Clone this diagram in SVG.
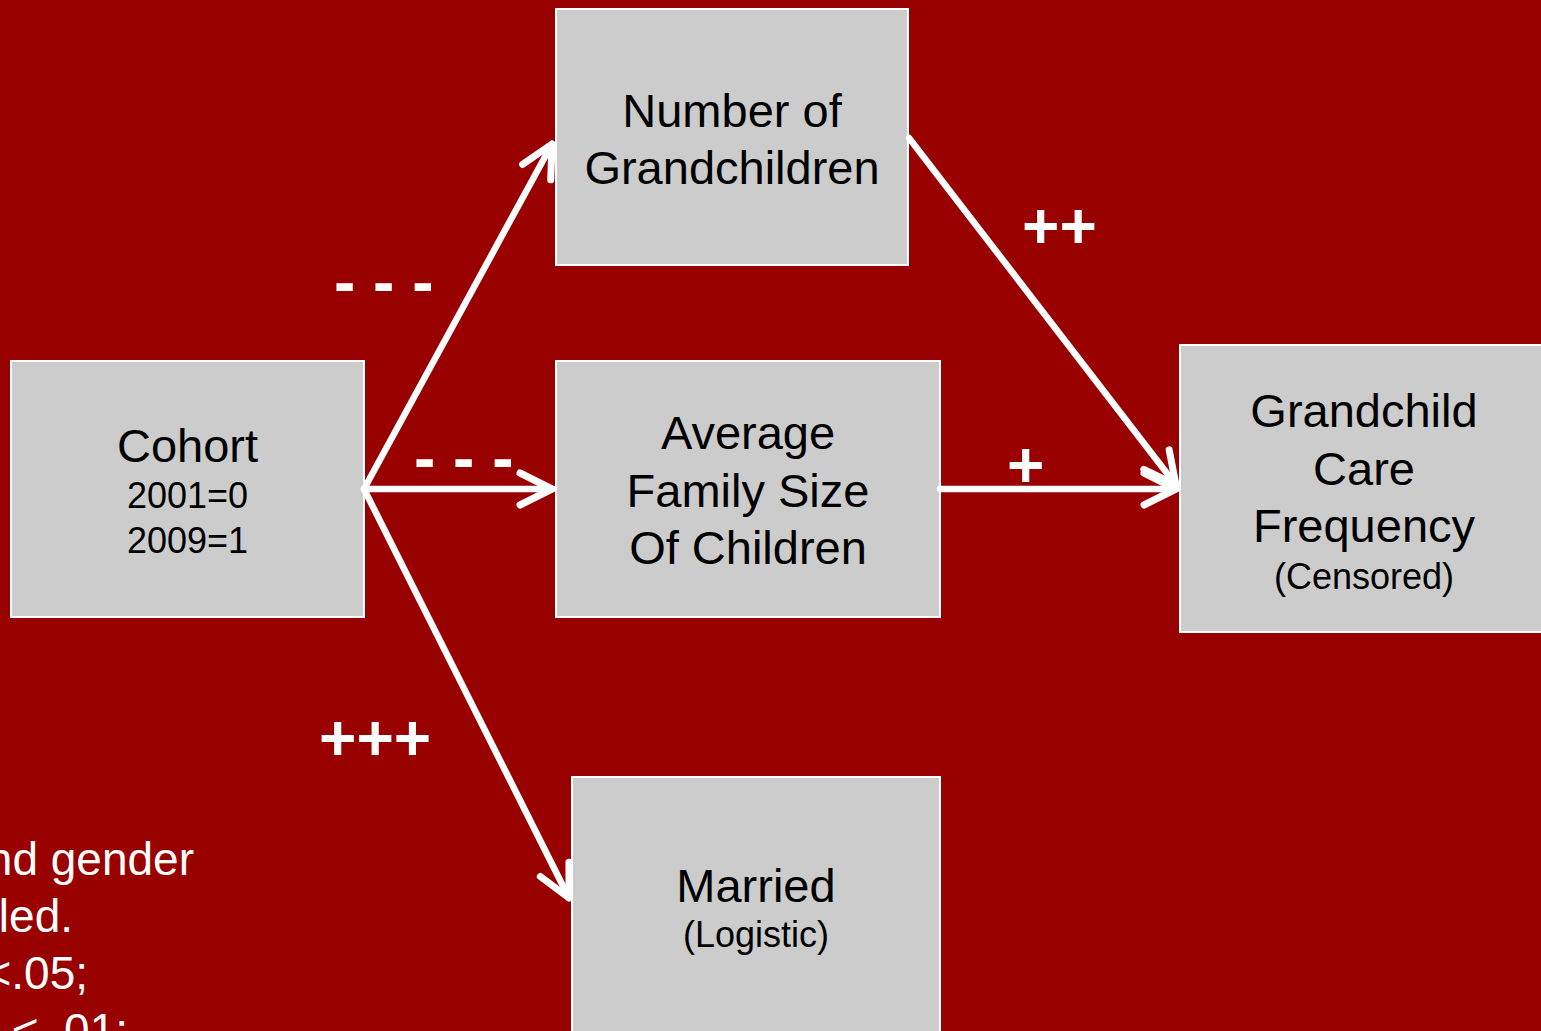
<svg xmlns="http://www.w3.org/2000/svg" width="1541" height="1031" viewBox="0 0 1541 1031">
<style>
.box{fill:#cccccc;stroke:#ffffff;stroke-width:2}
.t{font-family:"Liberation Sans",Arial,sans-serif;fill:#000;text-anchor:middle}
.big{font-size:47px}
.small{font-size:36px}
.lbl{font-family:"Liberation Sans",Arial,sans-serif;font-weight:bold;font-size:64px;fill:#fff}
.note{font-family:"Liberation Sans",Arial,sans-serif;font-size:46px;fill:#fff;text-anchor:end}
.conn{stroke:#fff;stroke-width:6.5;fill:none;stroke-linecap:round}
</style>
<defs>
<marker id="ah" markerUnits="userSpaceOnUse" markerWidth="60" markerHeight="60" viewBox="-40 -30 60 60" refX="0" refY="0" orient="auto" overflow="visible">
<path d="M-32,-16 L0,0 L-32,16" fill="none" stroke="#fff" stroke-width="7" stroke-linecap="round" stroke-linejoin="round"/>
</marker>
</defs>
<rect x="0" y="0" width="1541" height="1031" fill="#990000"/>

<g id="note">
<text class="note" x="194" y="875">nd gender</text>
<text class="note" x="73" y="932">led.</text>
<text class="note" x="88" y="989">&lt;.05;</text>
<text class="note" x="128" y="1046">&lt; .01;</text>
</g>

<g id="cohort">
<rect class="box" x="11" y="361" width="353" height="256"/>
<text class="t big" x="187.5" y="462">Cohort</text>
<text class="t small" x="187.5" y="508">2001=0</text>
<text class="t small" x="187.5" y="553">2009=1</text>
</g>

<g id="numgrand">
<rect class="box" x="556" y="9" width="352" height="256"/>
<text class="t big" x="732" y="127">Number of</text>
<text class="t big" x="732" y="184">Grandchildren</text>
</g>

<g id="avgfam">
<rect class="box" x="556" y="361" width="384" height="256"/>
<text class="t big" x="748" y="449">Average</text>
<text class="t big" x="748" y="507">Family Size</text>
<text class="t big" x="748" y="564">Of Children</text>
</g>

<g id="care">
<rect class="box" x="1180" y="345" width="368" height="287"/>
<text class="t big" x="1364" y="427">Grandchild</text>
<text class="t big" x="1364" y="485">Care</text>
<text class="t big" x="1364" y="542">Frequency</text>
<text class="t small" x="1364" y="589">(Censored)</text>
</g>

<g id="married">
<rect class="box" x="572" y="777" width="368" height="270"/>
<text class="t big" x="756" y="902">Married</text>
<text class="t small" x="756" y="947">(Logistic)</text>
</g>

<g id="connectors">
<line class="conn" x1="364" y1="489" x2="552" y2="144" marker-end="url(#ah)"/>
<line class="conn" x1="364" y1="489" x2="552" y2="489" marker-end="url(#ah)"/>
<line class="conn" x1="364" y1="489" x2="569" y2="898" marker-end="url(#ah)"/>
<line class="conn" x1="909" y1="138" x2="1176" y2="485" marker-end="url(#ah)"/>
<line class="conn" x1="940" y1="489" x2="1176" y2="489" marker-end="url(#ah)"/>
</g>

<g id="labels">
<text class="lbl" x="334" y="304" xml:space="preserve">- - -</text>
<text class="lbl" x="414" y="480" xml:space="preserve">- - -</text>
<text class="lbl" x="1022" y="248">++</text>
<text class="lbl" x="1007" y="487">+</text>
<text class="lbl" x="319" y="760">+++</text>
</g>
</svg>
